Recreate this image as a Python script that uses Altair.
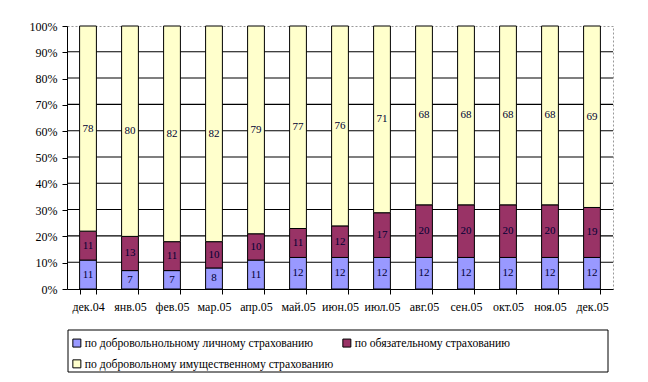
import altair as alt
import pandas as pd

months = ["дек.04", "янв.05", "фев.05", "мар.05", "апр.05", "май.05", "июн.05",
          "июл.05", "авг.05", "сен.05", "окт.05", "ноя.05", "дек.05"]
series = ["по добровольнольному личному страхованию",
          "по обязательному страхованию",
          "по добровольному имущественному страхованию"]
personal = [11, 7, 7, 8, 11, 12, 12, 12, 12, 12, 12, 12, 12]
obligatory = [11, 13, 11, 10, 10, 11, 12, 17, 20, 20, 20, 20, 19]
property_ = [78, 80, 82, 82, 79, 77, 76, 71, 68, 68, 68, 68, 69]
colors = ["#9999FF", "#993366", "#FFFFCC"]
y_ticks = [0.0, 0.1, 0.2, 0.3, 0.4, 0.5, 0.6, 0.7, 0.8, 0.9, 1.0]
grid_values = [0.1, 0.2, 0.3, 0.4, 0.5, 0.6, 0.7, 0.8, 0.9]

rows = []
for i, m in enumerate(months):
    for k, vals in enumerate([personal, obligatory, property_]):
        rows.append({"month": m, "series": series[k], "value": vals[i], "order": k})
df = pd.DataFrame(rows)

FONT = "Liberation Serif"

base = alt.Chart(df).transform_stack(
    stack="value", groupby=["month"], as_=["y0", "y1"], offset="normalize",
    sort=[alt.SortField("order", order="ascending")]
).transform_calculate(mid="(datum.y0 + datum.y1) / 2")

x_axis = alt.Axis(labelAngle=0, tickBand="extent", tickSize=5, tickColor="black",
                  domainColor="black", labelFont=FONT, labelFontSize=12,
                  labelColor="black", labelPadding=7, title=None)
y_axis = alt.Axis(format=".0%", values=y_ticks,
                  grid=False, labelOverlap=False,
                  tickSize=5, tickColor="black", domainColor="black",
                  labelFont=FONT, labelFontSize=12, labelColor="black", labelPadding=5,
                  title=None)
x_scale = alt.Scale(paddingInner=0.6, paddingOuter=0.3)
y_scale = alt.Scale(domain=[0, 1], nice=False)

grid = alt.Chart(pd.DataFrame({"g": grid_values})).transform_calculate(
    g2="datum.g + 0.004"
).mark_rect(color="black", opacity=1).encode(
    y=alt.Y("g:Q", scale=y_scale, axis=y_axis),
    y2="g2:Q",
    x=alt.value(0), x2=alt.value(546)
)

bars = base.mark_bar(stroke="black", strokeWidth=1).encode(
    x=alt.X("month:N", sort=months, scale=x_scale, axis=x_axis),
    y=alt.Y("y0:Q", scale=y_scale, axis=y_axis),
    y2="y1:Q",
    color=alt.Color("series:N", scale=alt.Scale(domain=series, range=colors),
                    legend=alt.Legend(title=None, orient="none", legendX=4, legendY=311,
                                      columns=2, columnPadding=6, rowPadding=7,
                                      symbolType="square", symbolSize=64,
                                      symbolStrokeColor="black", symbolStrokeWidth=1,
                                      symbolOffset=0, labelOffset=2,
                                      labelFont=FONT, labelFontSize=11.7, labelColor="black",
                                      labelLimit=400, padding=0,
                                      direction="horizontal")),
    order=alt.Order("order:Q")
)

labels = base.mark_text(font=FONT, fontSize=11, color="#000033", baseline="middle").encode(
    x=alt.X("month:N", sort=months, scale=x_scale, axis=x_axis),
    y=alt.Y("mid:Q", scale=y_scale, axis=y_axis),
    text=alt.Text("value:Q")
)

legend_box = alt.Chart(pd.DataFrame({"a": [0]})).mark_rect(
    fillOpacity=0, stroke="black", strokeWidth=1
).encode(x=alt.value(1), x2=alt.value(541), y=alt.value(304), y2=alt.value(346))

chart = alt.layer(grid, bars, labels, legend_box).properties(
    width=546, height=263, background="white",
    autosize=alt.AutoSizeParams(type="none"),
    padding={"left": 59, "top": 18, "right": 20, "bottom": 90}
).configure_view(stroke="#999999", strokeDash=[2, 2])

chart.save("out.html", embed_options={"renderer": "svg", "actions": False})
